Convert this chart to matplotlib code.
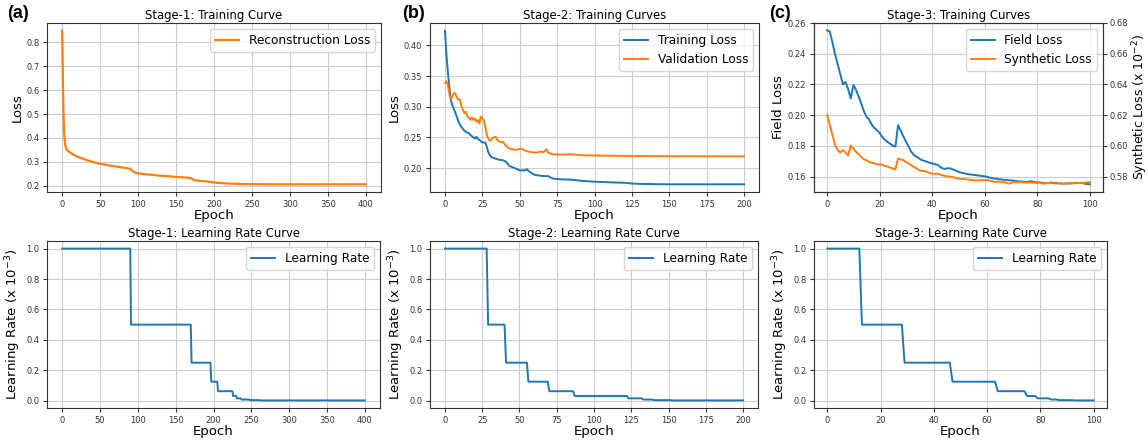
import matplotlib
matplotlib.use("Agg")
import matplotlib.pyplot as plt
import numpy as np

# ---------------- data ----------------
stage1_epochs = [0, 1, 2, 3, 4, 5, 7, 10, 15, 20, 30, 40, 50, 60, 70, 80, 88, 90,
                 92, 94, 97, 100, 110, 120, 130, 140, 150, 160, 168, 170, 172, 174,
                 177, 180, 190, 200, 210, 220, 230, 240, 250, 275, 300, 350, 400]
stage1_loss = [0.849, 0.62, 0.47, 0.40, 0.372, 0.358, 0.347, 0.340, 0.330, 0.322,
               0.310, 0.300, 0.292, 0.286, 0.281, 0.276, 0.272, 0.270,
               0.264, 0.258, 0.254, 0.252, 0.248, 0.245, 0.242, 0.240, 0.237,
               0.235, 0.233, 0.231, 0.227, 0.224, 0.222, 0.221, 0.218, 0.214,
               0.211, 0.209, 0.208, 0.207, 0.207, 0.206, 0.206, 0.206, 0.206]

stage2_train_epochs = [0, 1, 2, 3, 4, 5, 6, 7, 8, 9, 10, 11, 12, 13, 14, 16, 18, 20,
                       21, 22, 23, 25, 27, 28, 29, 30, 31, 33, 36, 39, 41, 43, 45,
                       47, 50, 53, 55, 56, 58, 60, 63, 66, 69, 72, 75, 79, 85, 92,
                       100, 110, 120, 125, 130, 140, 150, 175, 200]
stage2_train = [0.424, 0.385, 0.355, 0.330, 0.310, 0.302, 0.296, 0.290, 0.283,
                0.276, 0.271, 0.267, 0.264, 0.261, 0.259, 0.2565, 0.252, 0.248,
                0.251, 0.2475, 0.246, 0.2417, 0.2417, 0.2345, 0.226, 0.221, 0.218,
                0.216, 0.2137, 0.2126, 0.210, 0.2035, 0.2015, 0.1995, 0.1962,
                0.1962, 0.1978, 0.195, 0.1918, 0.189, 0.1878, 0.1869, 0.1869,
                0.183, 0.182, 0.1815, 0.181, 0.179, 0.1778, 0.1768, 0.176, 0.1748,
                0.1742, 0.1738, 0.1735, 0.1735, 0.1735]

stage2_val_epochs = [0, 1, 2, 3, 4, 5, 6, 7, 8, 9, 10, 11, 12, 13, 14, 15, 16, 17,
                     18, 19, 20, 21, 22, 23, 24, 25, 26, 27, 28, 29, 30, 31, 32,
                     34, 35, 37, 39, 41, 43, 46, 48, 51, 54, 57, 61, 64, 66, 68,
                     69, 72, 78, 85, 92, 105, 120, 150, 200]
stage2_val = [0.3386, 0.3413, 0.336, 0.3195, 0.3129, 0.3168, 0.3222, 0.3215,
              0.3150, 0.3112, 0.3123, 0.3014, 0.2948, 0.2893, 0.292, 0.2838,
              0.2822, 0.2784, 0.2827, 0.2784, 0.2811, 0.2756, 0.2784, 0.2729,
              0.2838, 0.2810, 0.2784, 0.2674, 0.2537, 0.2480, 0.2444, 0.2471,
              0.2490, 0.251, 0.2455, 0.2427, 0.2422, 0.2356, 0.2318, 0.2301,
              0.2301, 0.2318, 0.228, 0.2263, 0.2252, 0.2268, 0.2258, 0.2307,
              0.2252, 0.2225, 0.2219, 0.2225, 0.2208, 0.2203, 0.2198, 0.2193,
              0.2190]

stage3_field = [0.2552, 0.2545, 0.2475, 0.2398, 0.2333, 0.2267, 0.2201, 0.2216,
                0.2168, 0.2109, 0.2197, 0.2164, 0.2120, 0.2076, 0.2026, 0.1989,
                0.1971, 0.1938, 0.1917, 0.1901, 0.1884, 0.1857, 0.1840, 0.1826,
                0.1813, 0.1802, 0.1796, 0.1936, 0.1899, 0.1862, 0.1829, 0.1796,
                0.1763, 0.1741, 0.1730, 0.1719, 0.1708, 0.1703, 0.1697, 0.1690,
                0.1686, 0.1681, 0.1677, 0.1664, 0.1653, 0.1651, 0.1655, 0.1653,
                0.1646, 0.1639, 0.1631, 0.1626, 0.1622, 0.1618, 0.1615, 0.1613,
                0.1611, 0.1609, 0.1607, 0.1604, 0.1602, 0.1598, 0.1593, 0.1589,
                0.1587, 0.1585, 0.1582, 0.1580, 0.1578, 0.1576, 0.1576, 0.1574,
                0.1571, 0.1569, 0.1569, 0.1567, 0.1565, 0.1569, 0.1569, 0.1565,
                0.1563, 0.1563, 0.1558, 0.1558, 0.1558, 0.1561, 0.1558, 0.1556,
                0.1556, 0.1556, 0.1554, 0.1556, 0.1556, 0.1556, 0.1558, 0.1558,
                0.1558, 0.1561, 0.1554, 0.1552, 0.1550]
stage3_synth = [0.6200, 0.6138, 0.6072, 0.6006, 0.5973, 0.5956, 0.5973, 0.5956,
                0.5938, 0.6002, 0.5984, 0.5962, 0.5947, 0.5929, 0.5912, 0.5907,
                0.5896, 0.5890, 0.5886, 0.5881, 0.5879, 0.5877, 0.5870, 0.5866,
                0.5859, 0.5853, 0.5848, 0.5918, 0.5912, 0.5907, 0.5896, 0.5886,
                0.5875, 0.5864, 0.5853, 0.5842, 0.5837, 0.5837, 0.5831, 0.5824,
                0.5820, 0.5818, 0.5820, 0.5813, 0.5809, 0.5804, 0.5802, 0.5800,
                0.5796, 0.5791, 0.5787, 0.5785, 0.5785, 0.5782, 0.5780, 0.5778,
                0.5776, 0.5776, 0.5776, 0.5778, 0.5776, 0.5778, 0.5774, 0.5769,
                0.5765, 0.5769, 0.5763, 0.5765, 0.5761, 0.5754, 0.5758, 0.5765,
                0.5763, 0.5763, 0.5765, 0.5761, 0.5761, 0.5763, 0.5761, 0.5761,
                0.5758, 0.5761, 0.5754, 0.5756, 0.5758, 0.5761, 0.5761, 0.5761,
                0.5758, 0.5756, 0.5752, 0.5756, 0.5756, 0.5758, 0.5758, 0.5761,
                0.5758, 0.5758, 0.5761, 0.5763, 0.5763]
stage3_epochs = list(range(len(stage3_field)))

# learning-rate schedules: epoch where each level starts, level (x 1e-3)
lr1_starts = [0, 91, 171, 197, 206, 226, 231, 237, 248, 262]
lr1_levels = [1.0, 0.5, 0.25, 0.125, 0.0625, 0.03125, 0.015625, 0.0078, 0.0039, 0.002]
lr1_end = 400
lr2_starts = [0, 29, 41, 56, 70, 87, 123, 133, 140, 152]
lr2_levels = [1.0, 0.5, 0.25, 0.125, 0.0625, 0.03125, 0.015625, 0.0078, 0.0039, 0.002]
lr2_end = 200
lr3_starts = [0, 13, 29, 47, 64, 75, 79, 84, 87, 93]
lr3_levels = [1.0, 0.5, 0.25, 0.125, 0.0625, 0.03125, 0.015625, 0.0078, 0.0039, 0.002]
lr3_end = 100

BLUE = "#1f77b4"
ORANGE = "#ff7f0e"

TICK = 6.0
TITLE = 8.4
LABEL = 9.5
LEG = 8.7

W, H = 1148, 441
fig = plt.figure(figsize=(W / 100, H / 100), dpi=100)


def ax_at(l, r, t, b):
    return fig.add_axes([l / W, 1 - b / H, (r - l) / W, (b - t) / H])


def style(ax):
    ax.grid(True, color="#cccccc", linewidth=0.8)
    ax.set_axisbelow(True)
    ax.tick_params(labelsize=TICK, colors="#333333", length=3, pad=2.5)
    for s in ax.spines.values():
        s.set_color("#333333")
        s.set_linewidth(0.8)


def step_xy(starts, levels, end):
    xs, ys = [], []
    for i, lv in enumerate(levels):
        s = starts[i]
        e = starts[i + 1] - 1 if i + 1 < len(starts) else end
        xs += [s, e]
        ys += [lv, lv]
    return xs, ys


# ---------- top row ----------
a1 = ax_at(47, 381, 23, 192)
style(a1)
a1.plot(stage1_epochs, stage1_loss, color=ORANGE, lw=1.6, label="Reconstruction Loss")
a1.set_xticks(np.arange(0, 401, 50))
a1.set_title("Stage-1: Training Curve", fontsize=TITLE, pad=3)
a1.set_xlabel("Epoch", fontsize=LABEL, labelpad=0)
a1.set_ylabel("Loss", fontsize=LABEL, labelpad=2)
a1.legend(loc="upper right", fontsize=LEG, handlelength=2.0)

a2 = ax_at(430, 759, 23, 192)
style(a2)
a2.plot(stage2_train_epochs, stage2_train, color=BLUE, lw=1.4, label="Training Loss")
a2.plot(stage2_val_epochs, stage2_val, color=ORANGE, lw=1.4, label="Validation Loss")
a2.set_xticks(np.arange(0, 201, 25))
a2.set_title("Stage-2: Training Curves", fontsize=TITLE, pad=3)
a2.set_xlabel("Epoch", fontsize=LABEL, labelpad=0)
a2.set_ylabel("Loss", fontsize=LABEL, labelpad=2)
a2.legend(loc="upper right", fontsize=LEG, handlelength=2.0)

a3 = ax_at(814, 1103, 23, 192)
style(a3)
l1, = a3.plot(stage3_epochs, stage3_field, color=BLUE, lw=1.4, label="Field Loss")
a3.set_ylim(0.150, 0.260)
a3.set_yticks(np.arange(0.16, 0.261, 0.02))
a3.set_xticks(np.arange(0, 101, 20))
a3.set_title("Stage-3: Training Curves", fontsize=TITLE, pad=3)
a3.set_xlabel("Epoch", fontsize=LABEL, labelpad=0)
a3.set_ylabel("Field Loss", fontsize=LABEL, labelpad=2)
a3b = a3.twinx()
l2, = a3b.plot(stage3_epochs, stage3_synth, color=ORANGE, lw=1.4, label="Synthetic Loss")
a3b.set_ylim(0.570, 0.680)
a3b.set_yticks(np.arange(0.58, 0.681, 0.02))
a3b.tick_params(labelsize=TICK, colors="#333333", length=3, pad=2)
for s in a3b.spines.values():
    s.set_color("#333333")
    s.set_linewidth(0.8)
a3b.set_ylabel("Synthetic Loss (x 10$^{-2}$)", fontsize=9, labelpad=1)
a3b.legend([l1, l2], ["Field Loss", "Synthetic Loss"], loc="upper right",
           fontsize=LEG, handlelength=2.0)

# ---------- bottom row ----------
for (l, r), starts, levels, end, ticks, title in [
    ((47, 380), lr1_starts, lr1_levels, lr1_end, np.arange(0, 401, 50), "Stage-1: Learning Rate Curve"),
    ((430, 758), lr2_starts, lr2_levels, lr2_end, np.arange(0, 201, 25), "Stage-2: Learning Rate Curve"),
    ((814, 1107), lr3_starts, lr3_levels, lr3_end, np.arange(0, 101, 20), "Stage-3: Learning Rate Curve"),
]:
    ax = ax_at(l, r, 241, 408)
    style(ax)
    xs, ys = step_xy(starts, levels, end)
    ax.plot(xs, ys, color=BLUE, lw=1.4, label="Learning Rate")
    ax.set_xticks(ticks)
    ax.set_yticks([0.0, 0.2, 0.4, 0.6, 0.8, 1.0])
    ax.set_title(title, fontsize=TITLE, pad=3)
    ax.set_xlabel("Epoch", fontsize=LABEL, labelpad=0)
    ax.set_ylabel("Learning Rate (x 10$^{-3}$)", fontsize=LABEL, labelpad=2)
    ax.legend(loc="upper right", fontsize=LEG, handlelength=2.0)

# panel labels
for x, lab in [(7, "(a)"), (402, "(b)"), (769, "(c)")]:
    fig.text(x / W, 1 - 14 / H, lab, fontsize=13, fontweight="bold",
             family=["Liberation Sans", "DejaVu Sans"], va="center", ha="left")

fig.savefig("out.png", dpi=100)
